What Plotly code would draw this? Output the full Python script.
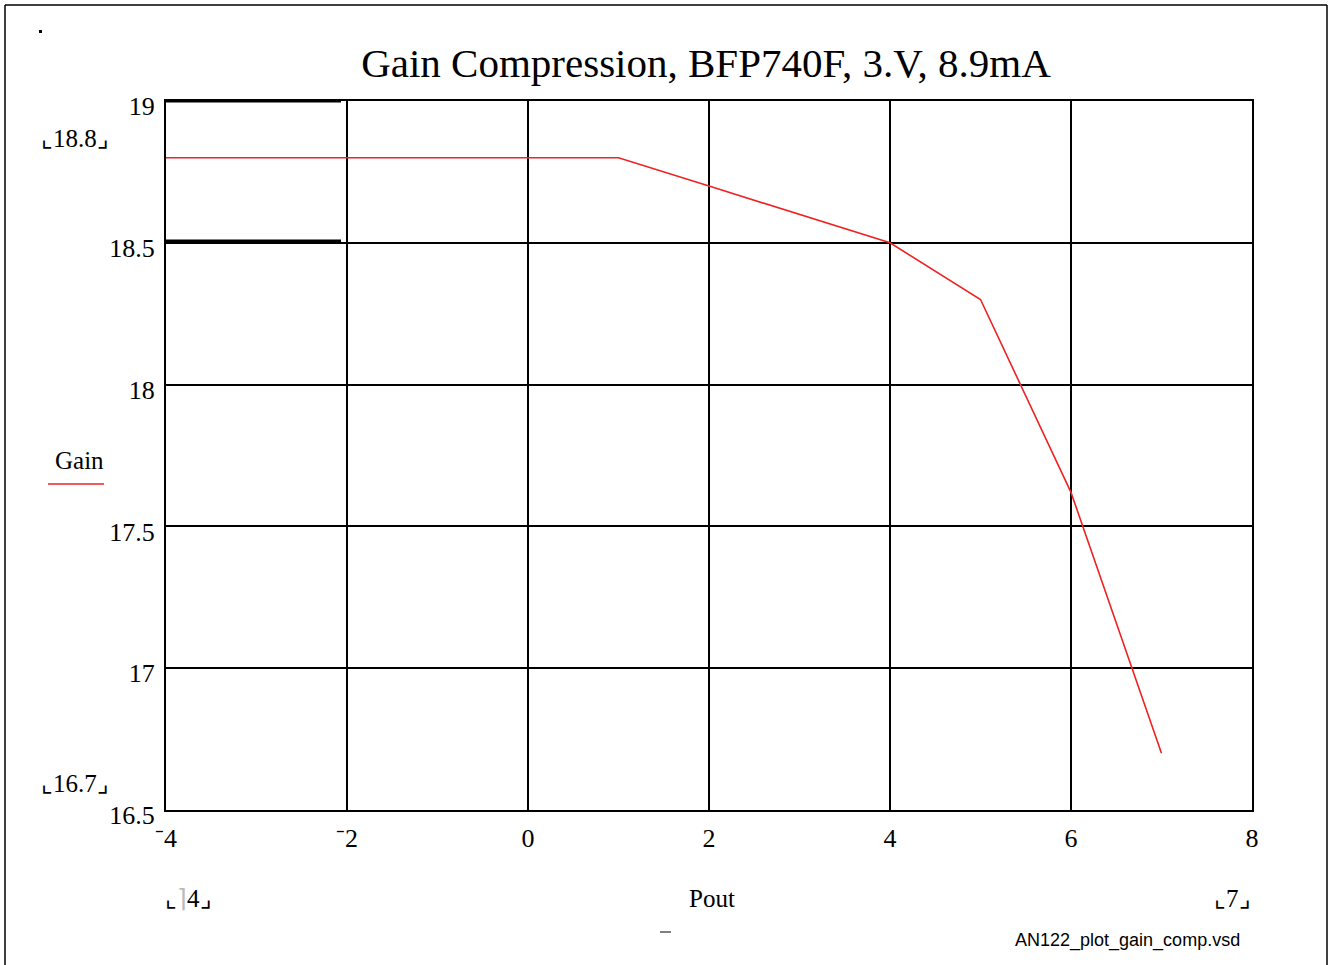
import plotly.graph_objects as go

# Data
pout = [-4, -3, -2, -1, 0, 1, 2, 3, 4, 5, 6, 7]
gain = [18.8, 18.8, 18.8, 18.8, 18.8, 18.8, 18.7, 18.6, 18.5, 18.3, 17.62, 16.7]
x_ticks = [-4, -2, 0, 2, 4, 6, 8]
x_tick_text = ["⁻4", "⁻2", "0", "2", "4", "6", "8"]
y_ticks = [16.5, 17, 17.5, 18, 18.5, 19]
y_tick_text = ["16.5", "17", "17.5", "18", "18.5", "19"]

W, H = 1330, 965
L, R, T, B = 166, 1252, 101, 810
PW, PH = R - L, B - T


def px(x):
    return (x - L) / PW


def py(y):
    return (B - y) / PH


SERIF = "Liberation Serif, Times New Roman, serif"

fig = go.Figure()
fig.add_trace(go.Scatter(x=pout, y=gain, mode="lines",
                         line=dict(color="#ee2222", width=1.6),
                         showlegend=False, hoverinfo="x+y"))

fig.update_layout(
    width=W, height=H,
    margin=dict(l=L, r=W - R, t=T, b=H - B),
    paper_bgcolor="white", plot_bgcolor="white",
    title=dict(text="Gain Compression, BFP740F, 3.V, 8.9mA",
               x=706 / W, xanchor="center", y=1 - 63 / H, yanchor="middle",
               font=dict(family=SERIF, size=41, color="black")),
    xaxis=dict(range=[-4, 8], tickvals=x_ticks, ticktext=x_tick_text,
               showgrid=True, gridcolor="black", gridwidth=2,
               showline=True, linecolor="black", linewidth=2, mirror=True,
               zeroline=False, ticks="", ticklabelstandoff=4,
               tickfont=dict(family=SERIF, size=26, color="black")),
    yaxis=dict(range=[16.5, 19], tickvals=y_ticks, ticktext=y_tick_text,
               showgrid=True, gridcolor="black", gridwidth=2,
               showline=True, linecolor="black", linewidth=2, mirror=True,
               zeroline=False, ticks="", ticklabelstandoff=4,
               ticklabelshift=5,
               tickfont=dict(family=SERIF, size=26, color="black")),
)

ann = [
    ("⌞18.8⌟", 75, 138, SERIF, 25),
    ("Gain", 79, 460, SERIF, 25),
    ("⌞16.7⌟", 75, 783, SERIF, 25),
    ("⌞<span style='color:#bbbbbb'>⌉</span>4⌟", 188, 898, SERIF, 25),
    ("Pout", 712, 898, SERIF, 25),
    ("⌞7⌟", 1232, 898, SERIF, 25),
    ("AN122_plot_gain_comp.vsd", 1127, 940, "Liberation Sans, Arial, sans-serif", 18),
]
for text, cx, cy, fam, size in ann:
    fig.add_annotation(text=text, x=px(cx), y=py(cy), xref="paper", yref="paper",
                       xanchor="center", yanchor="middle", showarrow=False,
                       font=dict(family=fam, size=size, color="black"))

shapes = [
    # legend line under "Gain"
    dict(type="line", xref="paper", yref="paper", x0=px(48), x1=px(104),
         y0=py(484), y1=py(484), line=dict(color="#ee2222", width=1.5)),
    # outer frame (left, top, right)
    dict(type="line", xref="paper", yref="paper", x0=px(5), x1=px(5),
         y0=py(5), y1=py(965), line=dict(color="black", width=1.5)),
    dict(type="line", xref="paper", yref="paper", x0=px(5), x1=px(1327),
         y0=py(5), y1=py(5), line=dict(color="black", width=1.5)),
    dict(type="line", xref="paper", yref="paper", x0=px(1327), x1=px(1327),
         y0=py(5), y1=py(965), line=dict(color="black", width=1.5)),
    # small dot top-left
    dict(type="rect", xref="paper", yref="paper", x0=px(39), x1=px(42),
         y0=py(33), y1=py(30), fillcolor="black", line=dict(width=0)),
    # small dash under Pout
    dict(type="line", xref="paper", yref="paper", x0=px(660), x1=px(671),
         y0=py(932), y1=py(932), line=dict(color="black", width=1)),
    # thicker segments in the upper-left cell
    dict(type="line", xref="paper", yref="paper", x0=px(166), x1=px(341),
         y0=py(101), y1=py(101), line=dict(color="black", width=3)),
    dict(type="line", xref="paper", yref="paper", x0=px(166), x1=px(341),
         y0=py(241), y1=py(241), line=dict(color="black", width=3)),
]
fig.update_layout(shapes=shapes)

fig.write_html("out.html")
